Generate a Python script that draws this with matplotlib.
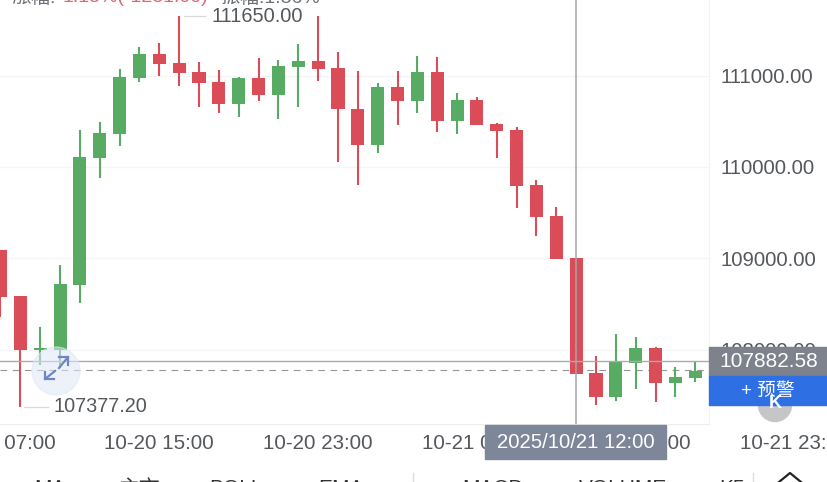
import matplotlib
matplotlib.use("Agg")
import matplotlib.pyplot as plt
from matplotlib.patches import Rectangle, Circle

plt.rcParams['font.family'] = ['Liberation Sans', 'Noto Sans CJK SC', 'DejaVu Sans']

UP = "#57ab62"
DOWN = "#d94c58"
TEXT = "#54575c"
ARROW = "#6f86c4"

# hourly candles, starting at 10-20 07:00
opens = [109092, 108589, 107998, 107998, 108709, 110098, 110361, 110974, 111236, 111138,
         111039, 110930, 110689, 110974, 110788, 111094, 111160, 111083, 110635, 110241,
         110875, 110722, 111039, 110503, 110733, 110470, 110405, 109803, 109464, 109004,
         107746, 107484, 107856, 108020, 107637, 107692]
highs = [109092, 108589, 108250, 108928, 110405, 110492, 111072, 111313, 111357, 111650,
         111149, 111061, 110985, 111192, 111171, 111346, 111650, 111258, 111050, 110919,
         111050, 111214, 111203, 110810, 110766, 110481, 110438, 109858, 109562, 109004,
         107932, 108173, 108140, 108031, 107812, 107867]
lows = [108359, 107377, 107834, 107801, 108512, 109880, 110230, 110930, 110996, 110886,
        110656, 110591, 110547, 110722, 110525, 110656, 110941, 110055, 109803, 110153,
        110459, 110591, 110383, 110361, 110459, 110098, 109552, 109245, 108994, 107735,
        107396, 107440, 107571, 107429, 107484, 107648]
closes = [108578, 107998, 108009, 108720, 110109, 110372, 110985, 111236, 111127, 111028,
          110919, 110689, 110974, 110788, 111105, 111160, 111072, 110635, 110241, 110875,
          110722, 111039, 110503, 110733, 110459, 110394, 109792, 109453, 108994, 107735,
          107484, 107867, 108020, 107637, 107703, 107768]

price_ticks = [108000, 109000, 110000, 111000]
time_ticks = [0, 8, 16, 24, 32, 40]
time_labels = ["10-20 07:00", "10-20 15:00", "10-20 23:00", "10-21 07:00", "10-21 15:00", "10-21 23:00"]
tabs = ["MA", "主市", "BOLL", "EMA", "MACD", "VOLUME", "K5"]
tab_x = [50, 140, 236, 341, 493, 623, 732]
max_price = 111650.00
min_price = 107377.20
last_price = 107882.58
dashed_price = 107775
cross_time = 29
date_label = "2025/10/21 12:00"

W, H = 828, 482
fig = plt.figure(figsize=(W / 100, H / 100), dpi=100, facecolor="white")

# main chart is 709 x 424 px at the top left
ax = fig.add_axes([0, 1 - 424 / H, 709 / W, 424 / H])
ax.set_xlim(-0.025, 35.69)
ax.set_ylim(107188, 111827)

for spine in ["top", "left"]:
    ax.spines[spine].set_visible(False)
ax.spines["right"].set_color("#f3f3f5")
ax.spines["bottom"].set_color("#eeeef0")

ax.yaxis.tick_right()
ax.set_yticks(price_ticks)
ax.set_yticklabels(["%.2f" % p for p in price_ticks], color=TEXT, fontsize=14.7)
ax.tick_params(axis="y", length=0, pad=8)
ax.set_xticks([])
ax.grid(axis="y", color="#f5f5f7", linewidth=0.9)
ax.set_axisbelow(True)

for i in range(len(opens)):
    color = UP if closes[i] >= opens[i] else DOWN
    ax.vlines(i, lows[i], highs[i], color=color, linewidth=1.5, zorder=3)
    bottom = min(opens[i], closes[i])
    ax.bar(i, max(abs(closes[i] - opens[i]), 22), width=0.66, bottom=bottom, color=color, zorder=3)

# crosshair and price lines
ax.axvline(cross_time, color="#a3a5a9", linewidth=1.1, zorder=4)
ax.axhline(last_price, color="#a9abae", linewidth=1.0, zorder=4)
ax.axhline(dashed_price, color="#94969a", linewidth=0.8, dashes=(6, 5), zorder=2)

# max / min markers
ax.plot([9.25, 10.3], [max_price, max_price], color="#d8d8d8", linewidth=0.9, zorder=2)
ax.text(10.65, max_price, "%.2f" % max_price, color=TEXT, fontsize=14.4, va="center", ha="left", zorder=5)
ax.plot([1.2, 2.4], [min_price, min_price], color="#d8d8d8", linewidth=0.9, zorder=2)
ax.text(2.65, min_price, "%.2f" % min_price, color=TEXT, fontsize=14.3, va="center", ha="left", zorder=5)

# time labels
trans = ax.get_xaxis_transform()
for t, label in zip(time_ticks, time_labels):
    ax.text(t, -0.045, label, transform=trans, color=TEXT, fontsize=14.8, ha="center", va="center", clip_on=False)

# everything else sits on an overlay in pixel coordinates
ov = fig.add_axes([0, 0, 1, 1], facecolor="none")
ov.set_xlim(0, W)
ov.set_ylim(H, 0)
ov.axis("off")

# zoom button
ov.add_patch(Circle((56, 371), 24, color="#dfe8f7", alpha=0.55, zorder=1))
ov.plot([59, 68], [368, 357], color=ARROW, linewidth=1.6)
ov.plot([59, 68, 68], [357, 357, 365], color=ARROW, linewidth=1.6)
ov.plot([55, 45], [371, 379], color=ARROW, linewidth=1.6)
ov.plot([45, 45, 54], [372, 379, 379], color=ARROW, linewidth=1.6)

# date box
ov.add_patch(Rectangle((485, 425), 181, 34, color="#7d8799", zorder=6))
ov.text(575.5, 442.5, date_label, color="white", fontsize=14.6, ha="center", va="center", zorder=7)

# price box and alert button
ov.add_patch(Rectangle((709, 347), 119, 29, color="#7d828c", zorder=6))
ov.text(768.5, 361.5, "%.2f" % last_price, color="white", fontsize=15, ha="center", va="center", zorder=7)
ov.add_patch(Rectangle((709, 376), 119, 29, color="#2f6fe4", zorder=6))
ov.text(768, 391, "+ 预警", color="white", fontsize=13.5, ha="center", va="center", zorder=7)
ov.add_patch(Circle((775, 405), 16.5, color="#c6c6c8", zorder=5))
ov.text(775, 404, "K", color="white", fontsize=13, ha="center", va="center", zorder=8, fontweight="bold")

# header, cut by the top edge
ov.text(11, -2, "涨幅:", color=TEXT, fontsize=14, ha="left", va="center", alpha=0.85)
ov.text(63, -2, "1.15%(-1281.00)", color="#d94c58", fontsize=14, ha="left", va="center", alpha=0.85)
ov.text(220, -2, "振幅:1.36%", color=TEXT, fontsize=14, ha="left", va="center", alpha=0.85)

# tab bar, cut by the bottom edge
for x, label in zip(tab_x, tabs):
    ov.text(x, 489, label, color="#333333", fontsize=15, ha="center", va="center")
ov.plot([413, 413], [473, 482], color="#dddddd", linewidth=1)
ov.plot([753, 753], [473, 482], color="#dddddd", linewidth=1)
ov.plot([779, 790, 801], [482, 473, 482], color="#222222", linewidth=1.6)

fig.savefig("out.png", dpi=100)
